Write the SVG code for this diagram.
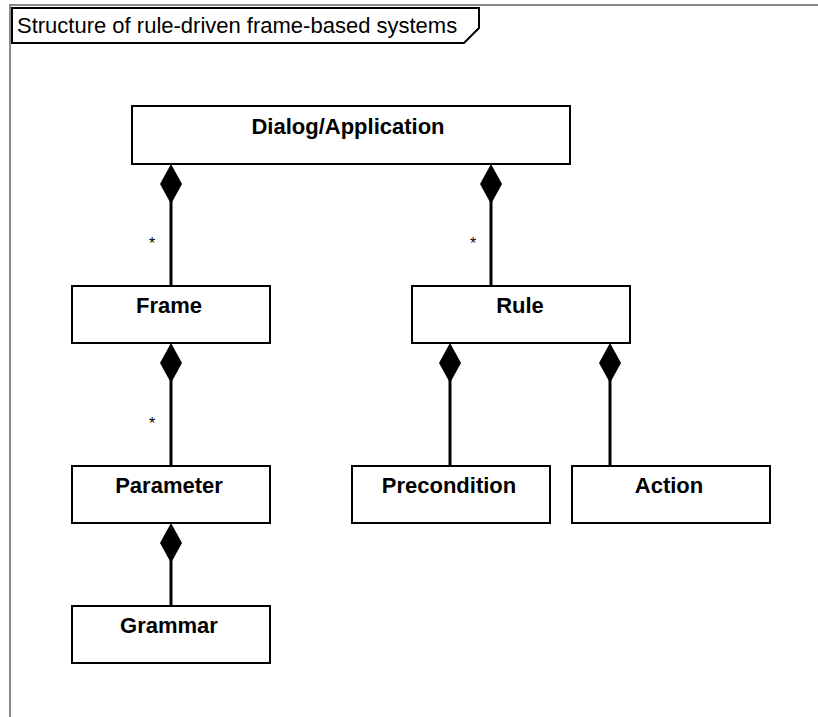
<svg xmlns="http://www.w3.org/2000/svg" width="818" height="717" viewBox="0 0 818 717">
  <style>
    .box { fill: #ffffff; stroke: #000000; stroke-width: 2; }
    .label { font-family: "Liberation Sans", Arial, sans-serif; font-size: 22px; font-weight: bold; fill: #000000; text-anchor: middle; }
    .title { font-family: "Liberation Sans", Arial, sans-serif; font-size: 22px; fill: #000000; }
    .mult { font-family: "Liberation Sans", Arial, sans-serif; font-size: 16px; fill: #000000; text-anchor: middle; }
    .link { stroke: #000000; stroke-width: 3; fill: none; }
    .diamond { fill: #000000; stroke: none; }
  </style>
  <defs>
    <!-- composition diamond, top vertex at origin -->
    <path id="comp" class="diamond" d="M0,0 L11,20 L0,40 L-11,20 Z"/>
  </defs>

  <rect width="818" height="717" fill="#ffffff"/>

  <!-- diagram frame -->
  <g id="frame">
    <path d="M10,717 L10,5 L818,5" fill="none" stroke="#8a8a8a" stroke-width="2"/>
    <path d="M12,8 L479,8 L479,28 L464,43 L12,43 Z" fill="#ffffff" stroke="#000000" stroke-width="2"/>
    <text class="title" x="17" y="33">Structure of rule-driven frame-based systems</text>
  </g>

  <!-- connectors -->
  <g id="connectors">
    <line class="link" x1="171" y1="200" x2="171" y2="286"/>
    <use href="#comp" x="171" y="164"/>
    <text class="mult" x="152" y="249">*</text>

    <line class="link" x1="491" y1="200" x2="491" y2="286"/>
    <use href="#comp" x="491" y="164"/>
    <text class="mult" x="473" y="249">*</text>

    <line class="link" x1="171" y1="380" x2="171" y2="466"/>
    <use href="#comp" x="171" y="343"/>
    <text class="mult" x="152" y="429">*</text>

    <line class="link" x1="171" y1="560" x2="171" y2="606"/>
    <use href="#comp" x="171" y="523"/>

    <line class="link" x1="450" y1="380" x2="450" y2="466"/>
    <use href="#comp" x="450" y="343"/>

    <line class="link" x1="610" y1="380" x2="610" y2="466"/>
    <use href="#comp" x="610" y="343"/>
  </g>

  <g id="dialog">
    <rect class="box" x="132" y="106" width="438" height="58"/>
    <text class="label" x="348" y="134">Dialog/Application</text>
  </g>

  <g id="frame-node">
    <rect class="box" x="72" y="286" width="198" height="57"/>
    <text class="label" x="169" y="313">Frame</text>
  </g>

  <g id="rule">
    <rect class="box" x="412" y="286" width="218" height="57"/>
    <text class="label" x="520" y="313">Rule</text>
  </g>

  <g id="parameter">
    <rect class="box" x="72" y="466" width="198" height="57"/>
    <text class="label" x="169" y="493">Parameter</text>
  </g>

  <g id="precondition">
    <rect class="box" x="352" y="466" width="198" height="57"/>
    <text class="label" x="449" y="493">Precondition</text>
  </g>

  <g id="action">
    <rect class="box" x="572" y="466" width="198" height="57"/>
    <text class="label" x="669" y="493">Action</text>
  </g>

  <g id="grammar">
    <rect class="box" x="72" y="606" width="198" height="57"/>
    <text class="label" x="169" y="633">Grammar</text>
  </g>
</svg>
